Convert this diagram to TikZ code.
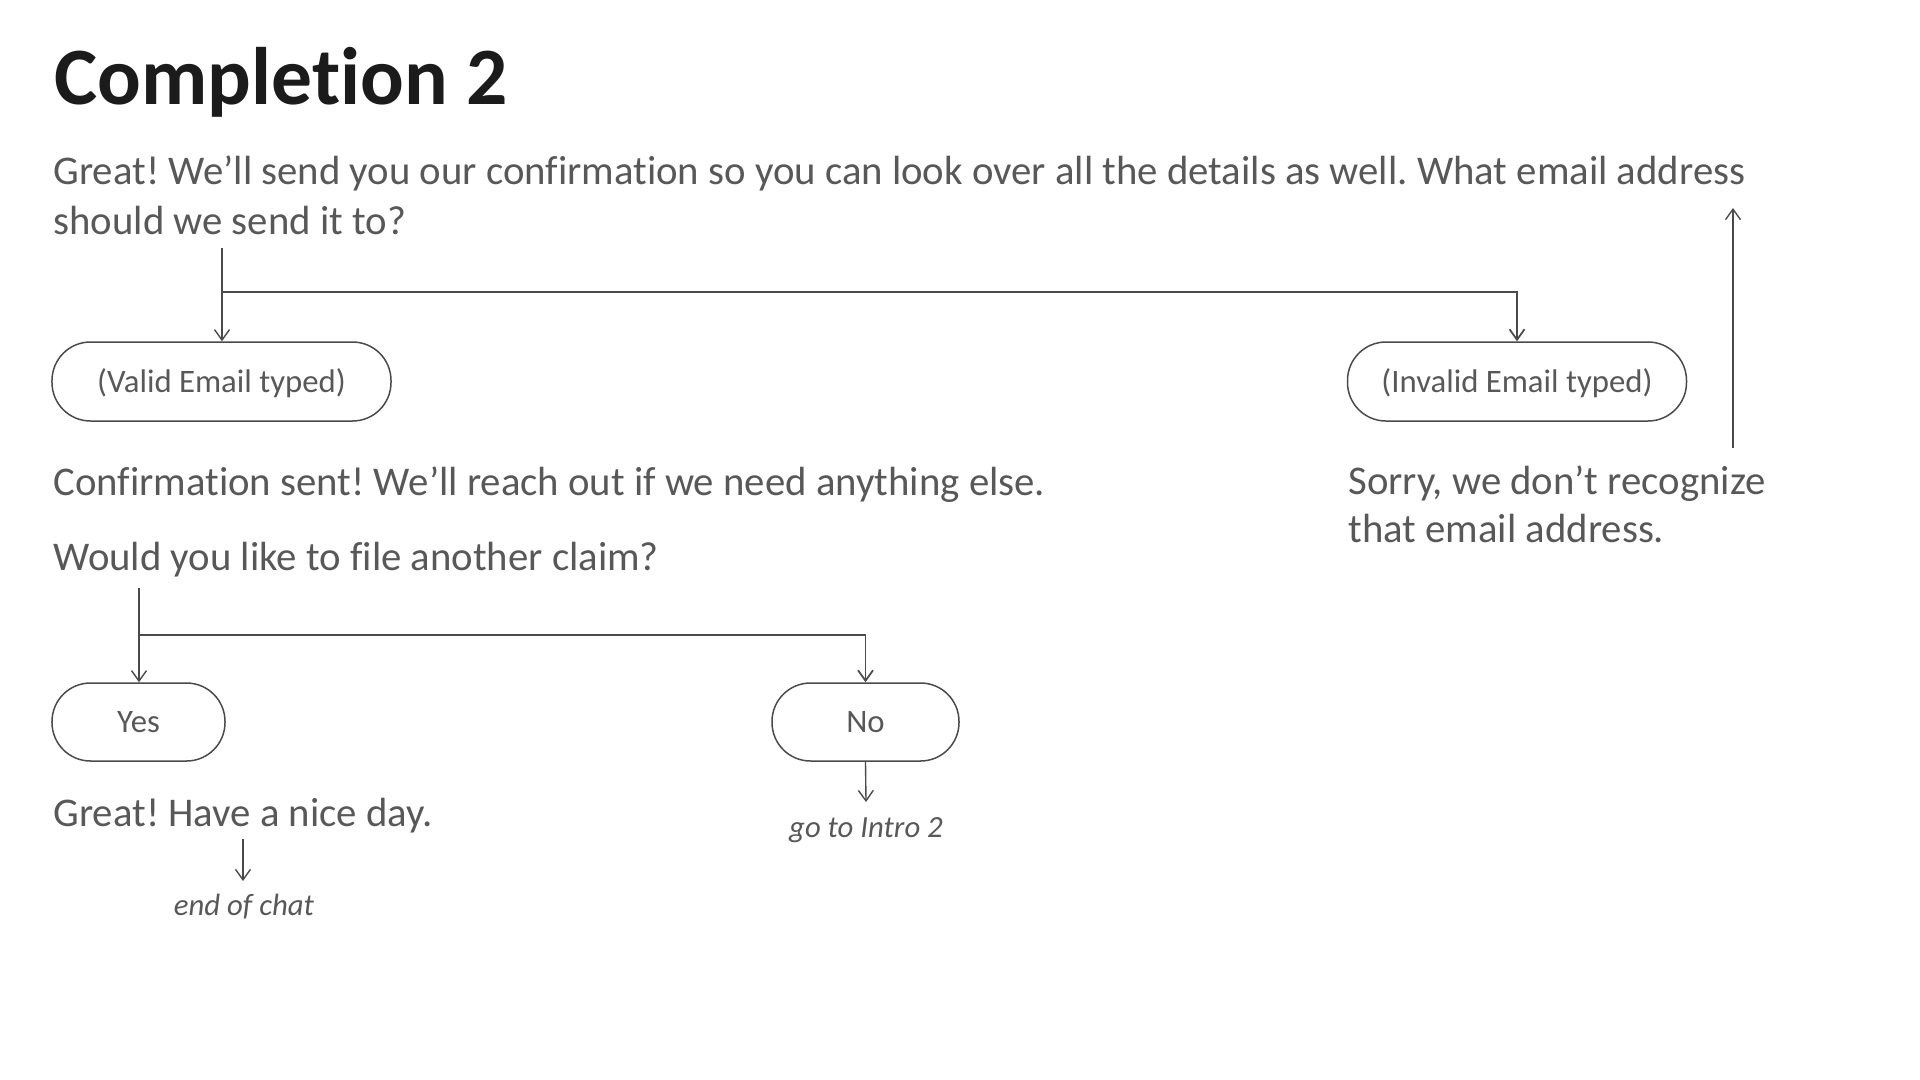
\documentclass[tikz,border=0pt]{standalone}
\usepackage{fontspec}
\setmainfont{Carlito}[Ligatures=NoCommon]
\usetikzlibrary{arrows.meta}
\definecolor{txtgray}{HTML}{585858}
\definecolor{ttlblack}{HTML}{1B1B1B}
\definecolor{lngray}{HTML}{4A4A4A}
\tikzset{
  bodytext/.style={text=txtgray, inner sep=0pt, anchor=base west,
    font=\fontsize{16.3}{20}\selectfont},
  titletext/.style={text=ttlblack, inner sep=0pt, anchor=base west,
    font=\fontsize{32.6}{38}\selectfont\bfseries},
  pill/.style={draw=lngray, line width=0.6pt, rounded corners=15.4pt,
    minimum height=31.6pt, inner sep=0pt, text height=8.4pt, text depth=0pt,
    text=txtgray, font=\fontsize{13.1}{16}\selectfont},
  notetext/.style={text=txtgray, inner sep=0pt, anchor=base,
    font=\fontsize{12.3}{15}\selectfont\itshape},
  arr/.style={draw=lngray, line width=0.55pt,
    -{Straight Barb[length=4.2pt,width=6pt]}},
  branch/.style={arr, line width=0.7pt},
}
\begin{document}
\frenchspacing
\begin{tikzpicture}[x=0.4pt,y=-0.4pt]
\useasboundingbox (0,0) rectangle (1920,1080);
% title
\node[titletext] (title) at (54,104) {Completion 2};
% first prompt
\node[bodytext] (p1a) at (53,184) {Great! We’ll send you our confirmation so you can look over all the details as well. What email address};
\node[bodytext] (p1b) at (53,234) {should we send it to?};
% email outcomes
\node[pill, minimum width=135.6pt] (valid) at (221.5,381.5) {(Valid Email typed)};
\node[pill, minimum width=135.6pt] (invalid) at (1517,381.5) {(Invalid Email typed)};
\coordinate (s1) at (222,248);
\coordinate (j1) at (222,292);
\draw[arr] (s1) -- (s1 |- valid.north);
\draw[branch] (j1) -| (invalid.north);
% invalid branch
\node[bodytext] (sa) at (1348,494) {Sorry, we don’t recognize};
\node[bodytext] (sb) at (1348,542) {that email address.};
\coordinate (u0) at (1733,448);
\coordinate (u1) at (1733,208);
\draw[arr] (u0) -- (u1);
% valid branch
\node[bodytext] (conf) at (53,495) {Confirmation sent! We’ll reach out if we need anything else.};
\node[bodytext] (would) at (53,570) {Would you like to file another claim?};
\node[pill, minimum width=69.2pt, minimum height=31.2pt] (yes) at (138.5,722) {Yes};
\node[pill, minimum width=74.8pt, minimum height=31.2pt] (no) at (865.5,722) {No};
\coordinate (s2) at (139,588);
\coordinate (j2) at (139,635);
\draw[arr] (s2) -- (s2 |- yes.north);
\draw[branch] (j2) -| (no.north);
% no
\node[notetext] (gti) at (866,837) {go to Intro 2};
\coordinate (n1) at (866,802);
\draw[arr] (no.south) -- (n1);
% yes
\node[bodytext] (nice) at (53,826) {Great! Have a nice day.};
\coordinate (e0) at (243,839);
\coordinate (e1) at (243,881);
\draw[arr] (e0) -- (e1);
\node[notetext] (eoc) at (244,915) {end of chat};
\end{tikzpicture}
\end{document}
